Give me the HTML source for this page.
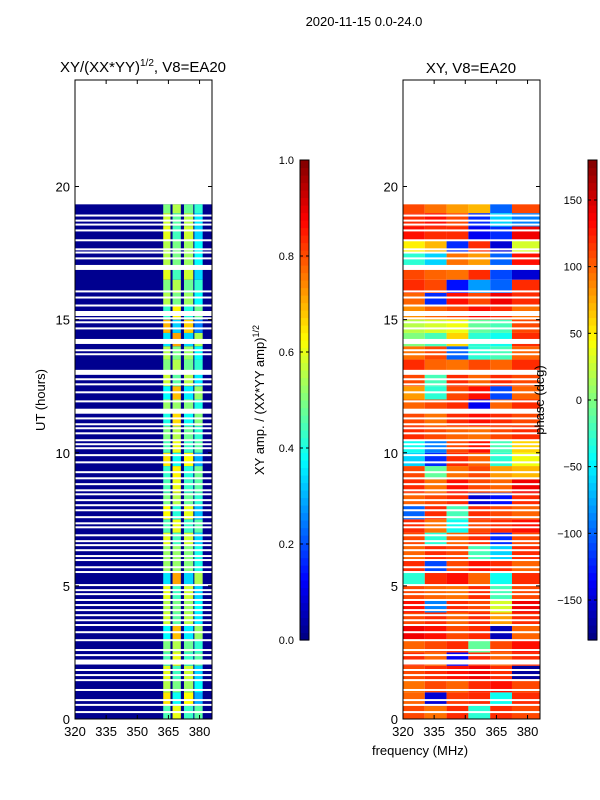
<!DOCTYPE html>
<html><head><meta charset="utf-8">
<style>
body{margin:0;background:#fff;}
svg{display:block;font-family:"Liberation Sans","DejaVu Sans",sans-serif;}
</style></head>
<body>
<svg id="chart" width="600" height="800" viewBox="0 0 600 800">
<text x="364" y="26" font-size="13" text-anchor="middle">2020-11-15 0.0-24.0</text>
<text x="143" y="72" font-size="15" text-anchor="middle">XY/(XX*YY)<tspan font-size="10" dy="-6">1/2</tspan><tspan dy="6">, V8=EA20</tspan></text>
<text x="471" y="73" font-size="15" text-anchor="middle">XY, V8=EA20</text>
<text transform="translate(45,400) rotate(-90)" font-size="13" text-anchor="middle">UT (hours)</text>
<text transform="translate(264,400) rotate(-90)" font-size="13" text-anchor="middle">XY amp. / (XX*YY amp)<tspan font-size="9" dy="-5">1/2</tspan></text>
<g id="left"></g>
<g id="right"></g>
<g id="cb"></g>
<text transform="translate(544,400) rotate(-90)" font-size="13" text-anchor="middle">phase (deg)</text>
<text x="420" y="755" font-size="13" text-anchor="middle">frequency (MHz)</text>
</svg>
<script>
// ---- data ----
const gapHours=[18.91,18.72,18.57,18.35,17.98,17.64,17.52,17.30,16.06,15.83,15.53,15.05,14.90,14.67,13.85,13.70,12.76,12.57,12.27,11.93,11.29,11.07,10.92,10.73,10.47,10.32,10.17,9.91,9.64,9.27,9.04,8.82,8.59,8.44,8.22,8.03,7.84,7.58,7.35,7.20,6.90,6.68,6.53,6.34,6.12,5.97,5.70,5.52,5.03,4.84,4.69,4.47,4.28,4.09,3.90,3.71,3.53,3.26,2.96,2.59,2.40,1.84,1.65,1.46,1.09,0.71,0.53,0.26];
const thickGapHours=[16.96,15.23,14.18,13.02,11.56,2.14];
const dataEndHour=19.33;
const ampColStart=[362.5,367,372.5,377.5];
const ampColEnd=[366,371,377,381.5];
const ampColLevel=[0.5,0.55,0.48,0.42];
// per half-hour modulation, rows 0..38
const ampRowLevel=[0.9,0.7,1.1,0.8,0.9,1.0,0.75,0.85,1.1,0.8,0.7,0.95,1.05,0.8,0.9,0.75,1.0,1.1,0.85,0.7,0.9,1.0,0.8,0.95,0.75,0.85,1.0,0.9,0.7,0.6,0.85,0.9,1.0,0.8,1.1,0.9,1.2,0.85,1.0];
const ampBase=0.015;
const phaseCols=[320,330.5,341,351.5,362,372.5,386];
const phaseRows=[
[110,95,120,-30,120,110],[100,-150,115,120,-40,120],[95,110,100,120,130,110],[110,120,130,140,120,-170],
[120,100,-140,120,100,120],[100,110,120,-10,110,130],[140,130,110,120,-160,100],[110,120,100,120,80,120],
[130,-90,120,110,30,140],[110,100,95,120,-20,110],[-30,120,130,100,-40,120],[120,-110,110,130,120,100],
[100,120,110,-20,-60,120],[110,-30,100,120,-120,110],[120,95,-40,110,120,130],[-100,120,-20,120,110,100],
[100,110,120,-150,-130,120],[120,95,130,110,100,140],[110,-10,95,110,80,70],[-60,-120,120,100,-30,40],
[-40,-90,110,130,-20,60],[120,110,100,95,110,120],[110,95,120,130,120,110],[100,110,120,-140,100,120],
[80,-30,110,130,-110,100],[110,-20,120,100,120,110],[120,100,95,110,100,120],[95,110,-100,-30,-20,100],
[0,-20,60,-30,-40,120],[20,30,40,-10,-20,110],[85,100,110,130,120,95],[100,-120,130,110,140,120],
[120,110,-130,-80,-100,120],[110,100,95,120,-110,-150],[-30,-60,95,80,-100,130],[50,70,-120,120,-150,30],
[130,120,120,-140,-120,140],[120,130,110,-120,-60,-90],[110,95,80,70,-100,110]];
const yTicks=[0,5,10,15,20];
const xTicks=[320,335,350,365,380];
const ampTicks=[0,0.2,0.4,0.6,0.8,1.0];
const phaseTicks=[-150,-100,-50,0,50,100,150];

// ---- helpers ----
const NS="http://www.w3.org/2000/svg";
function jet(v){v=Math.max(0,Math.min(1,v));
 const f=x=>Math.round(255*Math.max(0,Math.min(1,x)));
 const r=f(Math.min(4*v-1.5,-4*v+4.5)),g=f(Math.min(4*v-0.5,-4*v+3.5)),b=f(Math.min(4*v+0.5,-4*v+2.5));
 return `rgb(${r},${g},${b})`;}
function el(tag,attrs,parent){const e=document.createElementNS(NS,tag);for(const k in attrs)e.setAttribute(k,attrs[k]);parent.appendChild(e);return e;}
const axTop=80,axBot=719,H=24;
const yS=h=>axBot-(h/H)*(axBot-axTop);
function xS(x0){return f=>x0+(f-320)*(137/66);}

function drawFrame(g,x0,name){
 const xs=xS(x0);
 yTicks.forEach(t=>{const y=yS(t);
  el('line',{x1:x0,x2:x0+4,y1:y,y2:y,stroke:'#000'},g);
  el('line',{x1:x0+137,x2:x0+133,y1:y,y2:y,stroke:'#000'},g);
  const tx=el('text',{x:x0-5,y:y+5,'font-size':13,'text-anchor':'end'},g);tx.textContent=t;
  
  });
 xTicks.forEach(t=>{const x=xs(t);
  el('line',{x1:x,x2:x,y1:axBot,y2:axBot-4,stroke:'#000'},g);
  el('line',{x1:x,x2:x,y1:axTop,y2:axTop+4,stroke:'#000'},g);
  const tx=el('text',{x:x,y:axBot+17,'font-size':13,'text-anchor':'middle'},g);tx.textContent=t;
  
  });
 const r=el('rect',{x:x0,y:axTop,width:137,height:axBot-axTop,fill:'none',stroke:'#000','stroke-width':1},g);
 
 
}
function drawGaps(g,x0){
 gapHours.forEach(h=>{const r=el('rect',{x:x0,y:yS(h)-1,width:137,height:2,fill:'#fff'},g);
  
  });
 thickGapHours.forEach(h=>{const r=el('rect',{x:x0,y:yS(h)-2.5,width:137,height:5,fill:'#fff'},g);
  
  });
}

// ---- left amplitude panel ----
const L=document.getElementById('left');const xl=xS(75);
const base=el('rect',{x:75,y:yS(dataEndHour),width:137,height:axBot-yS(dataEndHour),fill:jet(ampBase)},L);


ampRowLevel.forEach((rl,i)=>{
 const h0=i*0.5,h1=Math.min(h0+0.5,dataEndHour);
 ampColLevel.forEach((cl,c)=>{
  const mod=(c%2===i%2)?rl:(2-rl);
  const r=el('rect',{x:xl(ampColStart[c]),y:yS(h1),width:xl(ampColEnd[c])-xl(ampColStart[c]),height:yS(h0)-yS(h1),fill:jet(cl*mod)},L);
  
  });
});
drawGaps(L,75);drawFrame(L,75,'amp-panel');

// ---- right phase panel ----
const R=document.getElementById('right');const xr=xS(403);
phaseRows.forEach((row,i)=>{
 const h0=i*0.5,h1=Math.min(h0+0.5,dataEndHour);
 row.forEach((p,c)=>{
  const x1=xr(phaseCols[c]),x2=Math.min(xr(phaseCols[c+1]),540);
  const r=el('rect',{x:x1,y:yS(h1),width:x2-x1,height:yS(h0)-yS(h1),fill:jet((p+180)/360)},R);
  
  });
});
drawGaps(R,403);drawFrame(R,403,'phase-panel');

// ---- colorbars ----
const CB=document.getElementById('cb');
function colorbar(x,name,ticks,lo,hi,fmt){
 const cy0=160,cy1=640,n=64;
 for(let i=0;i<n;i++){const r=el('rect',{x:x,y:cy1-(i+1)*(cy1-cy0)/n,width:9,height:(cy1-cy0)/n+0.6,fill:jet((i+0.5)/n)},CB);
  
  }
 el('rect',{x:x,y:cy0,width:9,height:cy1-cy0,fill:'none',stroke:'#000'},CB);
 ticks.forEach(t=>{const y=cy1-(t-lo)/(hi-lo)*(cy1-cy0);
  el('line',{x1:x,x2:x+3,y1:y,y2:y,stroke:'#000'},CB);
  el('line',{x1:x+9,x2:x+6,y1:y,y2:y,stroke:'#000'},CB);
  const tx=el('text',{x:x-6,y:y+4,'font-size':11,'text-anchor':'end'},CB);tx.textContent=fmt(t);
  
  });
}
colorbar(300,'amp-colorbar',ampTicks,0,1,t=>t.toFixed(1));
colorbar(588,'phase-colorbar',phaseTicks,-180,180,t=>t<0?'\u2212'+(-t):String(t));
</script>
</body></html>
